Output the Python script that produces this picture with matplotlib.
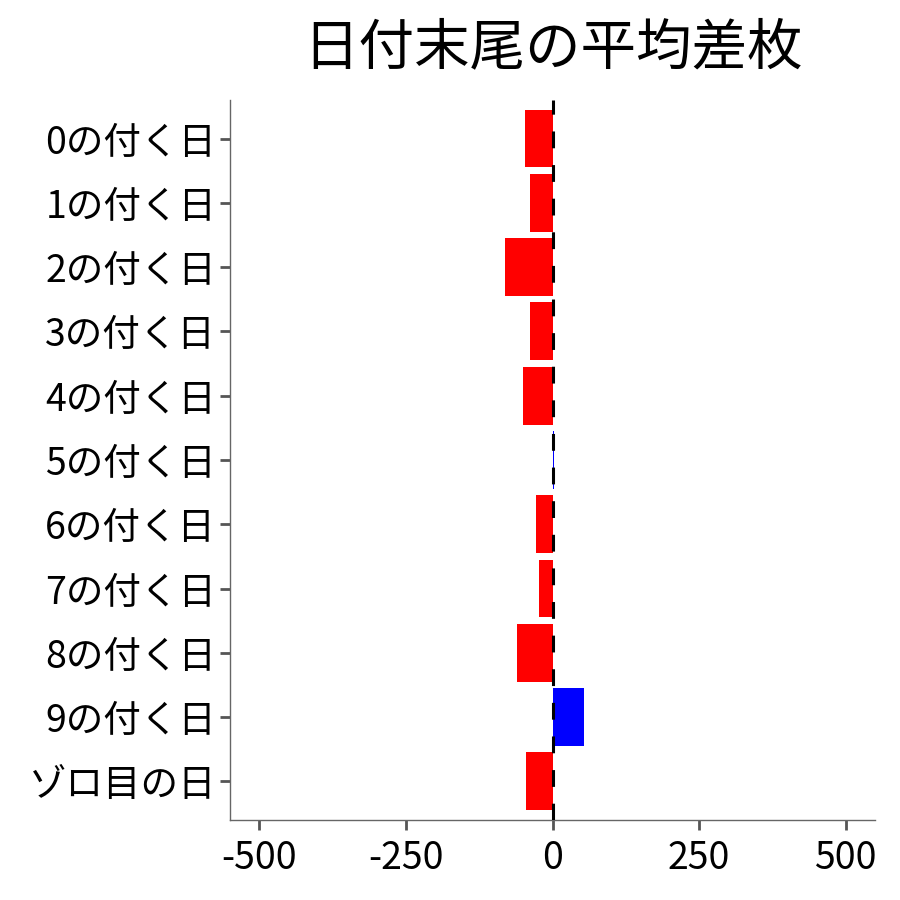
import matplotlib
matplotlib.use("Agg")
import matplotlib.pyplot as plt

plt.rcParams['font.family'] = ['Noto Sans CJK JP', 'DejaVu Sans']

# データ
labels = ["0の付く日", "1の付く日", "2の付く日", "3の付く日", "4の付く日", "5の付く日",
          "6の付く日", "7の付く日", "8の付く日", "9の付く日", "ゾロ目の日"]
diff = [-47, -38, -81, -38, -50, 3, -28, -23, -61, 54, -45]
xticks = [-500, -250, 0, 250, 500]

colors = ["#0000FF" if v > 0 else "#FF0000" for v in diff]
pos = list(range(len(labels)))[::-1]

fig = plt.figure(figsize=(9, 9), dpi=100)
ax = fig.add_axes([0.2556, 0.0889, 0.7166, 0.8])

ax.barh(pos, diff, height=0.9, color=colors, zorder=2)
ax.axvline(0, color="black", lw=2.2, linestyle=(0, (5.5, 5.5)), zorder=3)

ax.set_xlim(-550, 550)
ax.set_ylim(-0.6, len(labels) - 0.4)
ax.set_xticks(xticks)
ax.set_xticklabels([str(t) for t in xticks])
ax.set_yticks(pos)
ax.set_yticklabels(labels)

for s in ["top", "right"]:
    ax.spines[s].set_visible(False)
for s in ["left", "bottom"]:
    ax.spines[s].set_color("#666666")
    ax.spines[s].set_linewidth(1.0)
ax.tick_params(axis="both", colors="#555555", length=7, width=2, labelsize=27,
               labelcolor="black", pad=3)
ax.tick_params(axis="x", pad=7)

ax.set_title("日付末尾の平均差枚", fontsize=40, pad=26)

plt.savefig("out.png", dpi=100)
